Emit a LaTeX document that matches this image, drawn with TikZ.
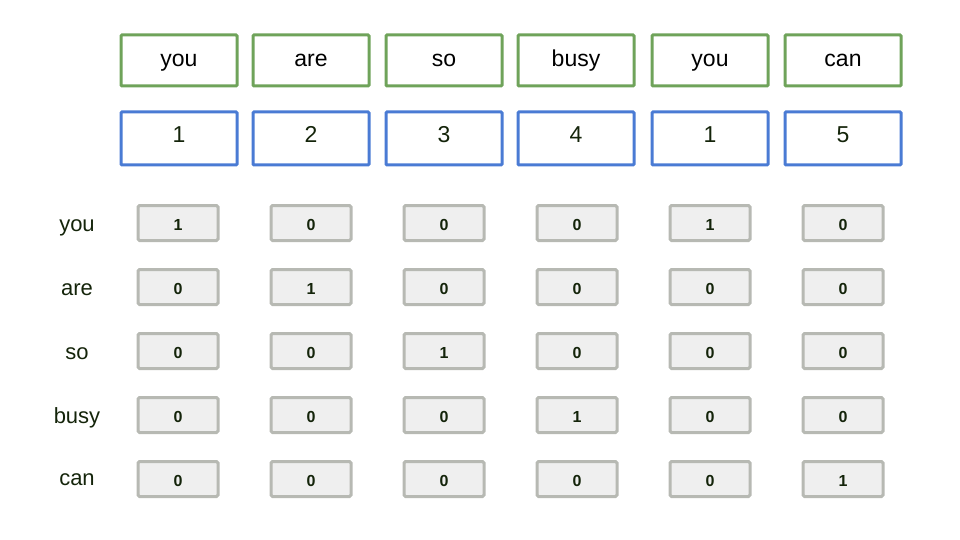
\documentclass[tikz,border=0pt]{standalone}
\usepackage{fontspec}
\setmainfont{Liberation Sans}
\definecolor{wgreen}{HTML}{6FA35A}
\definecolor{nblue}{HTML}{4A7BD4}
\definecolor{cgray}{HTML}{B7B9B3}
\definecolor{cfill}{HTML}{EFEFEF}
\definecolor{txt}{HTML}{14240A}
\begin{document}
\begin{tikzpicture}[x=1pt,y=-1pt,
  wordbox/.style={draw=wgreen,line width=3pt,rounded corners=1pt,minimum width=116pt,minimum height=51pt,inner sep=0pt,text height=12pt,text depth=0pt,font=\fontsize{23}{24}\selectfont,text=black},
  numbox/.style={draw=nblue,line width=3pt,rounded corners=1pt,minimum width=116pt,minimum height=53pt,inner sep=0pt,text height=16pt,text depth=7pt,font=\fontsize{23}{24}\selectfont,text=txt},
  cell/.style={draw=cgray,fill=cfill,line width=3pt,rounded corners=1.5pt,minimum width=80pt,minimum height=35pt,inner sep=0pt,text height=15pt,text depth=0pt,font=\bfseries\fontsize{16}{16}\selectfont,text=txt},
  rowlab/.style={inner sep=0pt,anchor=base,font=\fontsize{22}{24}\selectfont,text=txt}]
\useasboundingbox (0,0) rectangle (960,540);
\foreach \w [count=\i] in {you,are,so,busy,you,can}{
  \pgfmathsetmacro{\xx}{{179,311,444,576,710,843}[\i-1]}
  \node[wordbox] (w\i) at (\xx,60.5) {\w};
}
\foreach \n [count=\i] in {1,2,3,4,1,5}{
  \pgfmathsetmacro{\xx}{{179,311,444,576,710,843}[\i-1]}
  \node[numbox] (n\i) at (\xx,138.5) {\n};
}
\foreach \r [count=\j] in {you,are,so,busy,can}{
  \pgfmathsetmacro{\yy}{{231.5,295,359,423,485}[\j-1]}
  \node[rowlab] (r\j) at (77,\yy) {\r};
}
\foreach \j/\yy/\v in {1/223/{1,0,0,0,1,0},2/287/{0,1,0,0,0,0},3/351/{0,0,1,0,0,0},4/415/{0,0,0,1,0,0},5/479/{0,0,0,0,0,1}}{
  \foreach \val [count=\i] in \v {
    \pgfmathsetmacro{\xx}{{178,311,444,577,710,843}[\i-1]}
    \node[cell] (c\j\i) at (\xx,\yy) {\val};
  }
}
\end{tikzpicture}
\end{document}
